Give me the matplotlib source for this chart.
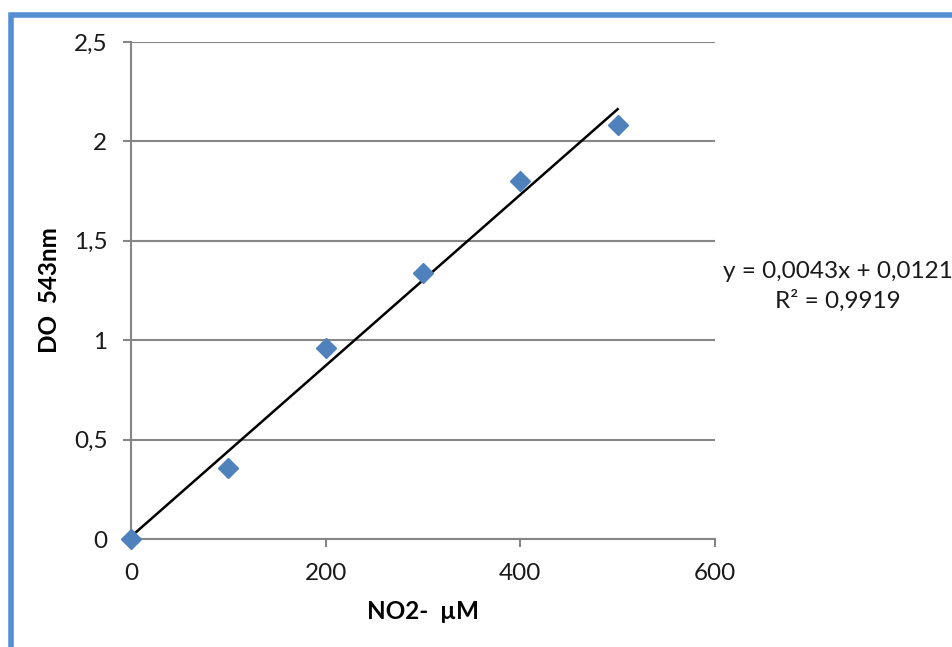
import matplotlib.pyplot as plt
from matplotlib.patches import Rectangle
from matplotlib.ticker import FuncFormatter
import numpy as np

plt.rcParams['font.family'] = ['Lato', 'DejaVu Sans']

# calibration points: nitrite concentration vs absorbance
conc = [0, 100, 200, 300, 400, 500]
absorb = [0.0, 0.357, 0.961, 1.338, 1.80, 2.083]

# linear trendline reported on the chart
slope = 0.0043
intercept = 0.0121
r2 = 0.9919

grey = '#868686'

fig = plt.figure(figsize=(9.52, 6.47), dpi=100)
ax = fig.add_axes([131 / 952, 1 - 539 / 647, 584 / 952, 497 / 647])

ax.set_xlim(0, 600)
ax.set_ylim(0, 2.5)
ax.set_xticks([0, 200, 400, 600])
ax.set_yticks([0, 0.5, 1, 1.5, 2, 2.5])

comma = FuncFormatter(lambda v, p: ('%g' % v).replace('.', ','))
ax.xaxis.set_major_formatter(comma)
ax.yaxis.set_major_formatter(comma)

ax.grid(axis='y', color=grey, linewidth=1.5)
ax.set_axisbelow(True)
for side in ('top', 'right'):
    ax.spines[side].set_visible(False)
for side in ('left', 'bottom'):
    ax.spines[side].set_color(grey)
    ax.spines[side].set_linewidth(1.5)
ax.tick_params(axis='both', colors=grey, labelcolor='#1a1a1a', labelsize=17.5,
               length=6, width=1.5, direction='out')
ax.tick_params(axis='y', pad=11)
ax.tick_params(axis='x', pad=11)

# trendline from the fitted equation
xf = np.array([0, 500])
ax.plot(xf, slope * xf + intercept, color='black', linewidth=1.8, zorder=3,
        clip_on=False)

ax.plot(conc, absorb, linestyle='none', marker='D', markersize=10,
        color='#4F81BD', markeredgecolor='#4F81BD', zorder=4, clip_on=False)

ax.set_xlabel('NO2-  µM', fontsize=17.5, fontweight='bold', labelpad=12)
ax.set_ylabel('DO  543nm', fontsize=17.5, fontweight='bold', labelpad=9)

eq = 'y = ' + ('%.4f' % slope).replace('.', ',') + 'x + ' + \
     ('%.4f' % intercept).replace('.', ',')
fig.text(838 / 952, 1 - 271 / 647, eq, ha='center', va='center', fontsize=17.5,
         color='#1a1a1a')
fig.text(838 / 952, 1 - 301 / 647, 'R² = ' + ('%.4f' % r2).replace('.', ','),
         ha='center', va='center', fontsize=17.5, color='#1a1a1a')

# blue frame around the chart area
fig.patches.append(Rectangle((11 / 952, -0.2), 1.2, 1.2 - 14.5 / 647,
                             transform=fig.transFigure, fill=False,
                             edgecolor='#558ED5', linewidth=4, clip_on=False))

fig.savefig('out.png', dpi=100)
